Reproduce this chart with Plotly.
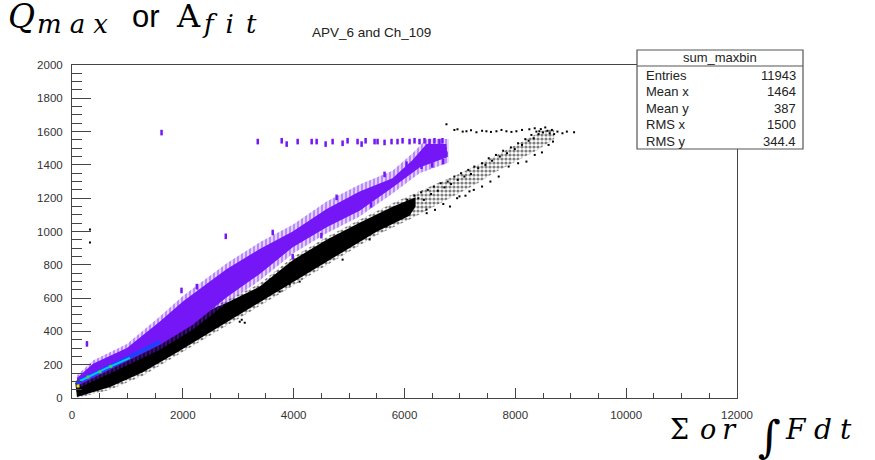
import plotly.graph_objects as go

# ---------------- data ----------------
# purple (COLZ, lowest palette colour) band: solid core edges
purple_top_x = [90, 378, 991, 1586, 2000, 2487, 2793, 3388, 3982, 4595, 5190, 5784, 6145, 6397, 6758]
purple_top_y = [120, 205, 300, 460, 580, 700, 775, 895, 1000, 1135, 1240, 1320, 1430, 1525, 1525]
purple_bot_x = [6758, 6271, 5784, 5190, 4595, 3982, 3388, 2793, 2180, 1586, 991, 90]
purple_bot_y = [1445, 1385, 1265, 1125, 1025, 905, 745, 605, 440, 318, 220, 72]
# purple band: outer (streaky) edges
purple_out_top_x = [90, 378, 991, 1586, 2000, 2487, 2793, 3388, 3982, 4595, 5190, 5784, 6145, 6397, 6800]
purple_out_top_y = [135, 225, 325, 490, 612, 735, 810, 935, 1040, 1180, 1282, 1365, 1470, 1555, 1555]
purple_out_bot_x = [6800, 6271, 5784, 5190, 4595, 3982, 3388, 2793, 2180, 1586, 991, 90]
purple_out_bot_y = [1415, 1350, 1228, 1090, 990, 866, 705, 570, 410, 290, 195, 55]

# isolated purple bins (horizontal row near 1540 and outliers)
purple_pts_x = [3352, 3784, 3874, 4072, 4325, 4415, 4577, 4703, 4883, 4973, 5153, 5226, 5298,
                5460, 5514, 5640, 5766, 5874, 5965, 6091, 6181, 6271, 6361, 6451, 6541, 6631, 6685,
                1616, 2775, 1976, 270,
                2252, 3622, 4775, 5640, 6037, 6307, 6758, 6740, 3982, 4500, 5400, 6500, 6700]
purple_pts_y = [1540, 1545, 1525, 1540, 1540, 1540, 1525, 1540, 1530, 1545, 1540, 1525, 1545,
                1540, 1540, 1535, 1540, 1540, 1545, 1540, 1545, 1540, 1545, 1540, 1545, 1540, 1545,
                1594, 971, 646, 325,
                669, 994, 1205, 1343, 1404, 1392, 1464, 1490, 849, 975, 1160, 1400, 1420]

# higher-count bins at the low end (palette colours)
blue_x = [72, 505, 1045, 1586]
blue_y = [90, 157, 247, 337]
cyan_x = [144, 595, 1045]
cyan_y = [102, 175, 241]
green_x = [288, 505, 700]
green_y = [126, 157, 190]
yellow_x = [108]
yellow_y = [72]

# black (scatter) band: dense core edges
black_top_x = [60, 700, 1300, 1900, 2500, 2793, 3388, 3982, 4595, 5190, 5784, 6200]
black_top_y = [90, 200, 300, 410, 530, 572, 669, 828, 950, 1052, 1148, 1205]
black_bot_x = [6200, 6091, 5496, 4883, 4289, 3694, 3081, 2487, 1892, 1279, 685, 90]
black_bot_y = [1150, 1095, 998, 876, 756, 636, 515, 395, 274, 154, 66, 6]
# black band: outer (sparser) edges
black_out_top_x = [60, 700, 1300, 1900, 2500, 2793, 3388, 3982, 4595, 5190, 5784, 6400, 7000,
                   7600, 8200, 8500, 8700]
black_out_top_y = [100, 210, 315, 425, 545, 585, 687, 845, 967, 1070, 1170, 1262, 1348,
                   1448, 1552, 1606, 1614]
black_out_bot_x = [8700, 8400, 8000, 7600, 7298, 6685, 6091, 5496, 4883, 4289, 3694, 3081,
                   2487, 1892, 1279, 685, 90]
black_out_bot_y = [1556, 1490, 1420, 1350, 1285, 1178, 1072, 978, 856, 736, 614, 494,
                   374, 256, 134, 50, 0]

# sparse black points
black_pts_x = [6050, 6120, 6180, 6250, 6300, 6350, 6420, 6480, 6530, 6600, 6650, 6720, 6780,
               6840, 6900, 6960, 7020, 7080, 7150, 7200, 7260, 7330, 7400, 7460, 7520, 7580,
               7650, 7720, 7780, 7850, 7920, 7990, 8050, 8120, 8180, 8240, 8290, 8330, 8380,
               8420, 8460, 8500, 8540, 8580, 8620, 8660, 8700, 8760, 8850, 8930, 9060,
               6400, 6550, 6700, 6820, 6950, 7100, 7250, 7400, 7550, 7700, 7880, 8050, 8200,
               8350, 8480, 8600, 8680,
               6757, 6900, 6956, 7050, 7118, 7200, 7298, 7400, 7478, 7560, 7659, 7750, 7839,
               7930, 8019, 8120, 8253, 8350, 8433,
               2487, 2793, 2901, 3027, 3117, 3388, 3622, 3748, 3928, 4108, 2180, 2000, 3063,
               4883, 4108, 3748, 5370, 5676, 6037, 6397, 6992, 7172, 4343, 4703, 5190,
               324, 324]
black_pts_y = [1190, 1160, 1215, 1200, 1235, 1190, 1250, 1225, 1270, 1245, 1290, 1265, 1300,
               1285, 1330, 1310, 1350, 1330, 1370, 1345, 1390, 1380, 1410, 1400, 1440, 1425,
               1460, 1450, 1485, 1470, 1505, 1495, 1530, 1520, 1555, 1545, 1580, 1560, 1600,
               1585, 1615, 1595, 1625, 1605, 1590, 1610, 1585, 1600, 1590, 1600, 1596,
               1110, 1130, 1165, 1150, 1200, 1215, 1250, 1270, 1300, 1330, 1390, 1410, 1420,
               1460, 1475, 1520, 1540,
               1644, 1610, 1614, 1600, 1602, 1608, 1596, 1605, 1602, 1598, 1602, 1610, 1602,
               1598, 1602, 1610, 1614, 1620, 1602,
               410, 488, 488, 458, 452, 590, 663, 663, 681, 753, 367, 337, 470,
               831, 699, 639, 952, 1030, 1102, 1132, 1211, 1241, 849, 910, 970,
               1012, 934]

x_ticks = [0, 2000, 4000, 6000, 8000, 10000, 12000]
y_ticks = [0, 200, 400, 600, 800, 1000, 1200, 1400, 1600, 1800, 2000]

stats_names = ["Entries", "Mean x", "Mean y", "RMS x", "RMS y"]
stats_values = ["11943", "1464", "387", "1500", "344.4"]

PURPLE = "#7416f6"
CLEAR = "rgba(0,0,0,0)"

# ---------------- figure ----------------
fig = go.Figure()

fig.add_trace(go.Scatter(x=black_out_top_x + black_out_bot_x, y=black_out_top_y + black_out_bot_y,
                         fill="toself", fillcolor=CLEAR, mode="lines", line=dict(width=0),
                         fillpattern=dict(shape=".", fgcolor="#000000", bgcolor=CLEAR,
                                          size=4, solidity=0.5),
                         hoverinfo="skip"))
fig.add_trace(go.Scatter(x=black_top_x + black_bot_x, y=black_top_y + black_bot_y,
                         fill="toself", fillcolor="#000000", mode="lines",
                         line=dict(width=0), hoverinfo="skip"))
fig.add_trace(go.Scatter(x=black_pts_x, y=black_pts_y, mode="markers",
                         marker=dict(symbol="square", size=2, color="#000000")))
fig.add_trace(go.Scatter(x=purple_out_top_x + purple_out_bot_x, y=purple_out_top_y + purple_out_bot_y,
                         fill="toself", fillcolor=CLEAR, mode="lines", line=dict(width=0),
                         fillpattern=dict(shape="|", fgcolor=PURPLE, bgcolor=CLEAR,
                                          size=4, solidity=0.7),
                         hoverinfo="skip"))
fig.add_trace(go.Scatter(x=purple_top_x + purple_bot_x, y=purple_top_y + purple_bot_y,
                         fill="toself", fillcolor=PURPLE, mode="lines",
                         line=dict(width=0), hoverinfo="skip"))
fig.add_trace(go.Scatter(x=purple_pts_x, y=purple_pts_y, mode="markers",
                         marker=dict(symbol="line-ns", size=4,
                                     line=dict(width=2.5, color=PURPLE))))
fig.add_trace(go.Scatter(x=blue_x, y=blue_y, mode="lines",
                         line=dict(width=4, color="#2040ff")))
fig.add_trace(go.Scatter(x=cyan_x, y=cyan_y, mode="lines",
                         line=dict(width=2, color="#00c8f0")))
fig.add_trace(go.Scatter(x=green_x, y=green_y, mode="markers",
                         marker=dict(symbol="square", size=3, color="#30d860")))
fig.add_trace(go.Scatter(x=yellow_x, y=yellow_y, mode="markers",
                         marker=dict(symbol="square", size=3, color="#e8e800")))

L, R, T, B = 72, 138, 65, 62
W, H = 875, 460
PW, PH = W - L - R, H - T - B


def px2paper(px, py):
    return (px - L) / PW, (H - B - py) / PH


axis_common = dict(showgrid=False, zeroline=False, showline=True, linecolor="#444444",
                   linewidth=1, mirror=True, ticks="inside", tickcolor="#444444",
                   tickfont=dict(family="Liberation Sans", size=11.5, color="#333333"),
                   ticklabelstandoff=6)

fig.update_xaxes(range=[0, 12000], tickvals=x_ticks, ticktext=[str(v) for v in x_ticks],
                 ticklen=10, minor=dict(dtick=500, ticklen=5, ticks="inside", tickcolor="#444444"),
                 **axis_common)
fig.update_yaxes(range=[0, 2000], tickvals=y_ticks, ticktext=[str(v) for v in y_ticks],
                 ticklen=19, minor=dict(dtick=50, ticklen=10, ticks="inside", tickcolor="#444444"),
                 **axis_common)

shapes = []
x0, y1 = px2paper(637, 50)
x1, y0 = px2paper(803, 149)
shapes.append(dict(type="rect", xref="paper", yref="paper", x0=x0, x1=x1, y0=y0, y1=y1,
                   fillcolor="white", line=dict(color="#555555", width=1.2), layer="above"))
_, ys = px2paper(0, 66)
shapes.append(dict(type="line", xref="paper", yref="paper", x0=x0, x1=x1, y0=ys, y1=ys,
                   line=dict(color="#555555", width=1.2), layer="above"))

annotations = []


def txt(text, px, py, family, size, anchor="left", color="#000000"):
    ax, ay = px2paper(px, py)
    annotations.append(dict(text=text, xref="paper", yref="paper", x=ax, y=ay,
                            xanchor=anchor, yanchor="middle", showarrow=False,
                            font=dict(family=family, size=size, color=color)))


txt("sum_maxbin", 720, 58, "Liberation Sans", 13, "center", "#222222")
rows_py = [75, 91.5, 108, 124.5, 141]
for name, val, py in zip(stats_names, stats_values, rows_py):
    txt(name, 644, py, "Liberation Sans", 13, "left", "#222222")
    txt(val, 798, py, "Liberation Sans", 13, "right", "#222222")

txt("APV_6 and Ch_109", 371, 33, "Liberation Sans", 13.5, "center", "#222222")

# y-axis title pieces (top-left)
txt("<i>Q</i>", 6, 16, "DejaVu Serif", 33)
txt("<i><span style='letter-spacing:8px'>max</span></i>", 35, 24, "DejaVu Serif", 26)
txt("or", 130, 17, "Liberation Sans", 31)
txt("A", 174, 16, "DejaVu Serif", 32)
txt("<i><span style='letter-spacing:12px'>fit</span></i>", 200, 24, "DejaVu Serif", 26)

# x-axis title pieces (bottom-right)
txt("Σ", 668, 429, "DejaVu Serif", 27)
txt("<i><span style='letter-spacing:6px'>or</span></i>", 698, 429, "DejaVu Serif", 27)
txt("∫", 756, 437, "DejaVu Serif", 44)
txt("<i>F</i>", 783, 429, "DejaVu Serif", 28)
txt("<i><span style='letter-spacing:8px'>dt</span></i>", 812, 429, "DejaVu Serif", 28)

fig.update_layout(width=W, height=H, margin=dict(l=L, r=R, t=T, b=B),
                  paper_bgcolor="white", plot_bgcolor="white", showlegend=False,
                  shapes=shapes, annotations=annotations)

fig.write_html("out.html")
